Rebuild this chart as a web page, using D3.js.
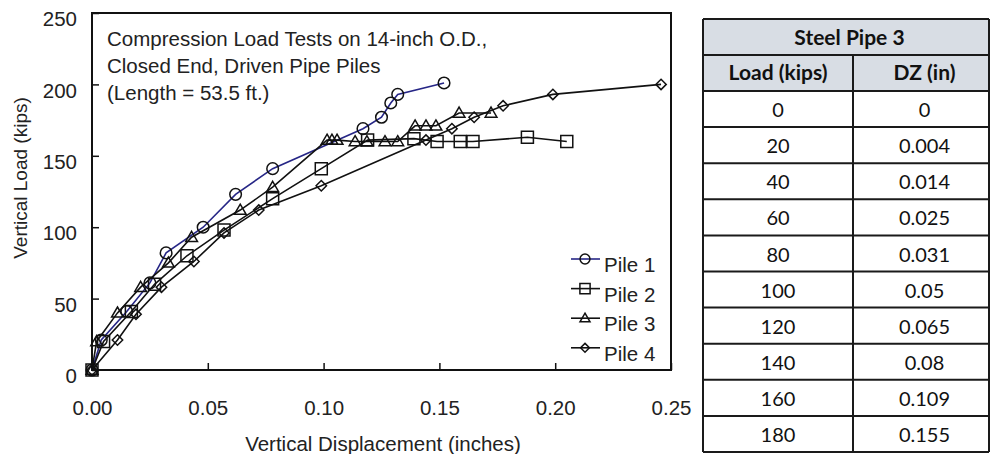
<!DOCTYPE html>
<html><head><meta charset="utf-8">
<script src="https://cdn.jsdelivr.net/npm/d3@7/dist/d3.min.js"></script>
<style>
html,body{margin:0;padding:0;background:#fff;}
svg{display:block;}
</style></head>
<body>
<svg id="chart" width="990" height="454"></svg>
<script>
// ---- data ----
const pile1Disp = [0, 0.004, 0.015, 0.025, 0.032, 0.048, 0.062, 0.078, 0.117, 0.125, 0.129, 0.132, 0.152];
const pile1Load = [0, 21, 41, 61, 82, 100, 123, 141, 169, 177, 187, 193, 201];
const pile2Disp = [0, 0.005, 0.017, 0.027, 0.041, 0.057, 0.078, 0.099, 0.119, 0.139, 0.149, 0.159, 0.1645, 0.188, 0.205];
const pile2Load = [0, 20, 41, 60, 80, 98, 120, 141, 161, 162, 160, 160, 160, 163, 160];
const pile3Disp = [0, 0.002, 0.011, 0.021, 0.033, 0.043, 0.064, 0.078, 0.1015, 0.1036, 0.1058, 0.1136, 0.1187, 0.1265, 0.132, 0.1395, 0.1442, 0.1485, 0.1585, 0.1723];
const pile3Load = [0, 20, 40, 58, 75, 93, 112, 128, 161, 161, 161, 160, 160, 160, 160, 171, 171, 171, 180, 180];
const pile4Disp = [0, 0.011, 0.019, 0.030, 0.044, 0.057, 0.072, 0.099, 0.1442, 0.1554, 0.165, 0.1775, 0.199, 0.2457];
const pile4Load = [0, 21, 39, 58, 76, 96, 112, 129, 161, 169, 177, 185, 193, 200];
const seriesNames = ["Pile 1", "Pile 2", "Pile 3", "Pile 4"];
const xTicks = [0, 0.05, 0.10, 0.15, 0.20, 0.25];
const yTicks = [0, 50, 100, 150, 200, 250];
const titleLines = ["Compression Load Tests on 14-inch O.D.,", "Closed End, Driven Pipe Piles", "(Length = 53.5 ft.)"];
const xTitle = "Vertical Displacement (inches)";
const yTitle = "Vertical Load (kips)";
const tableTitle = "Steel Pipe 3";
const tableHeaders = ["Load (kips)", "DZ (in)"];
const tableLoads = ["0", "20", "40", "60", "80", "100", "120", "140", "160", "180"];
const tableDZ = ["0", "0.004", "0.014", "0.025", "0.031", "0.05", "0.065", "0.08", "0.109", "0.155"];

const series = [
  {name: seriesNames[0], disp: pile1Disp, load: pile1Load, marker: "circle", line: "#262686"},
  {name: seriesNames[1], disp: pile2Disp, load: pile2Load, marker: "square", line: "#111"},
  {name: seriesNames[2], disp: pile3Disp, load: pile3Load, marker: "triangle", line: "#111"},
  {name: seriesNames[3], disp: pile4Disp, load: pile4Load, marker: "diamond", line: "#111"}
];

const svg = d3.select("#chart");
const FONT = "'Liberation Sans', Arial, sans-serif";
const L = 92, R = 671, T = 13, B = 370;
const x = d3.scaleLinear().domain([0, 0.25]).range([L, R]);
const y = d3.scaleLinear().domain([0, 250]).range([B, T]);

// axes
const xAxis = d3.axisBottom(x).tickValues(xTicks).tickFormat(d3.format(".2f")).tickSizeInner(-7).tickSizeOuter(0).tickPadding(30);
const gx = svg.append("g").attr("transform", `translate(0,${B})`).call(xAxis);
gx.select(".domain").remove();
gx.selectAll("line").attr("stroke", "#111").attr("stroke-width", 1.5);
gx.selectAll("text").attr("font-family", FONT).attr("font-size", 20.5).attr("fill", "#222");

const yAxis = d3.axisLeft(y).tickValues(yTicks).tickFormat(d3.format("d")).tickSizeInner(-7).tickSizeOuter(0).tickPadding(15);
const gy = svg.append("g").attr("transform", `translate(${L},0)`).call(yAxis);
gy.select(".domain").remove();
gy.selectAll("line").attr("stroke", "#111").attr("stroke-width", 1.5);
gy.selectAll("text").attr("font-family", FONT).attr("font-size", 20.5).attr("fill", "#222").attr("dy", "0.62em");

// frame
svg.append("rect").attr("x", L).attr("y", T).attr("width", R - L).attr("height", B - T)
  .attr("fill", "none").attr("stroke", "#111").attr("stroke-width", 2);

// axis titles
svg.append("text").attr("x", 383).attr("y", 451).attr("text-anchor", "middle")
  .attr("font-family", FONT).attr("font-size", 20.5).attr("fill", "#222").text(xTitle);
svg.append("text").attr("transform", "translate(27,178) rotate(-90)").attr("text-anchor", "middle")
  .attr("font-family", FONT).attr("font-size", 19).attr("fill", "#222").text(yTitle);

// in-plot title
svg.append("g").selectAll("text").data(titleLines).join("text")
  .attr("x", 107).attr("y", (d, i) => 46 + i * 26.8)
  .attr("font-family", FONT).attr("font-size", 20.5).attr("fill", "#222").text(d => d);

// markers
function markerPath(type, s) {
  if (type === "circle") return d3.symbol().type(d3.symbolCircle).size(Math.PI * s * s)();
  if (type === "square") return `M${-s},${-s}H${s}V${s}H${-s}Z`;
  if (type === "triangle") return `M0,${-s * 1.05}L${s * 1.05},${s * 0.75}L${-s * 1.05},${s * 0.75}Z`;
  if (type === "diamond") return `M0,${-s}L${s},0L0,${s}L${-s},0Z`;
}
const msize = {circle: 5.8, square: 6, triangle: 5.6, diamond: 5.2};

const line = d3.line().x(d => x(d[0])).y(d => y(d[1]));
series.forEach(s => {
  const pts = s.disp.map((d, i) => [d, s.load[i]]);
  const g = svg.append("g");
  g.append("path").attr("d", line(pts)).attr("fill", "none").attr("stroke", s.line).attr("stroke-width", 1.6);
  g.selectAll("path.m").data(pts).join("path").attr("class", "m")
    .attr("transform", d => `translate(${x(d[0])},${y(d[1])})`)
    .attr("d", markerPath(s.marker, msize[s.marker]))
    .attr("fill", "none").attr("stroke", "#111").attr("stroke-width", 1.5);
});

// legend
const lg = svg.append("g");
series.forEach((s, i) => {
  const by = 272 + i * 29.6;
  const ly = by - 13;
  lg.append("line").attr("x1", 571).attr("x2", 600).attr("y1", ly).attr("y2", ly)
    .attr("stroke", s.line).attr("stroke-width", 1.6);
  lg.append("path").attr("transform", `translate(585,${ly})`).attr("d", markerPath(s.marker, msize[s.marker] * 0.85))
    .attr("fill", "none").attr("stroke", "#111").attr("stroke-width", 1.5);
  lg.append("text").attr("x", 604).attr("y", by).attr("font-family", FONT).attr("font-size", 20.5)
    .attr("fill", "#222").text(s.name);
});

// table
const TF = "Lato, 'Open Sans', sans-serif";
const tL = 703, tM = 853, tR = 996, tRdraw = 989;
const rowEdges = [19, 55, 91];
for (let i = 1; i <= tableLoads.length; i++) rowEdges.push(91 + i * 36.1);
const tb = svg.append("g");
tb.append("rect").attr("x", tL).attr("y", rowEdges[0]).attr("width", tRdraw - tL).attr("height", rowEdges[2] - rowEdges[0]).attr("fill", "#d8dde4");
// horizontal lines
tb.selectAll("line.h").data(rowEdges).join("line").attr("class", "h")
  .attr("x1", tL).attr("x2", tRdraw).attr("y1", d => d).attr("y2", d => d)
  .attr("stroke", "#1a1a1a").attr("stroke-width", 2);
// vertical lines
tb.append("line").attr("x1", tL).attr("x2", tL).attr("y1", rowEdges[0]).attr("y2", rowEdges[rowEdges.length - 1]).attr("stroke", "#1a1a1a").attr("stroke-width", 2);
tb.append("line").attr("x1", tRdraw).attr("x2", tRdraw).attr("y1", rowEdges[0]).attr("y2", rowEdges[rowEdges.length - 1]).attr("stroke", "#1a1a1a").attr("stroke-width", 2);
tb.append("line").attr("x1", tM).attr("x2", tM).attr("y1", rowEdges[1]).attr("y2", rowEdges[rowEdges.length - 1]).attr("stroke", "#1a1a1a").attr("stroke-width", 2);

const c1 = (tL + tM) / 2, c2 = (tM + tR) / 2;
tb.append("text").attr("x", (tL + tR) / 2).attr("y", rowEdges[1] - 10).attr("text-anchor", "middle")
  .attr("font-family", TF).attr("font-weight", "bold").attr("font-size", 21).attr("fill", "#111").text(tableTitle);
tb.selectAll("text.hd").data(tableHeaders).join("text").attr("class", "hd")
  .attr("x", (d, i) => i === 0 ? c1 : c2).attr("y", rowEdges[2] - 11).attr("text-anchor", "middle")
  .attr("font-family", TF).attr("font-weight", "bold").attr("font-size", 21).attr("fill", "#111").text(d => d);
tableLoads.forEach((v, i) => {
  const by = rowEdges[i + 3] - 10;
  tb.append("text").attr("x", c1).attr("y", by).attr("text-anchor", "middle")
    .attr("font-family", TF).attr("font-size", 20).attr("fill", "#111").text(v);
  tb.append("text").attr("x", c2).attr("y", by).attr("text-anchor", "middle")
    .attr("font-family", TF).attr("font-size", 20).attr("fill", "#111").text(tableDZ[i]);
});
</script>
</body></html>
